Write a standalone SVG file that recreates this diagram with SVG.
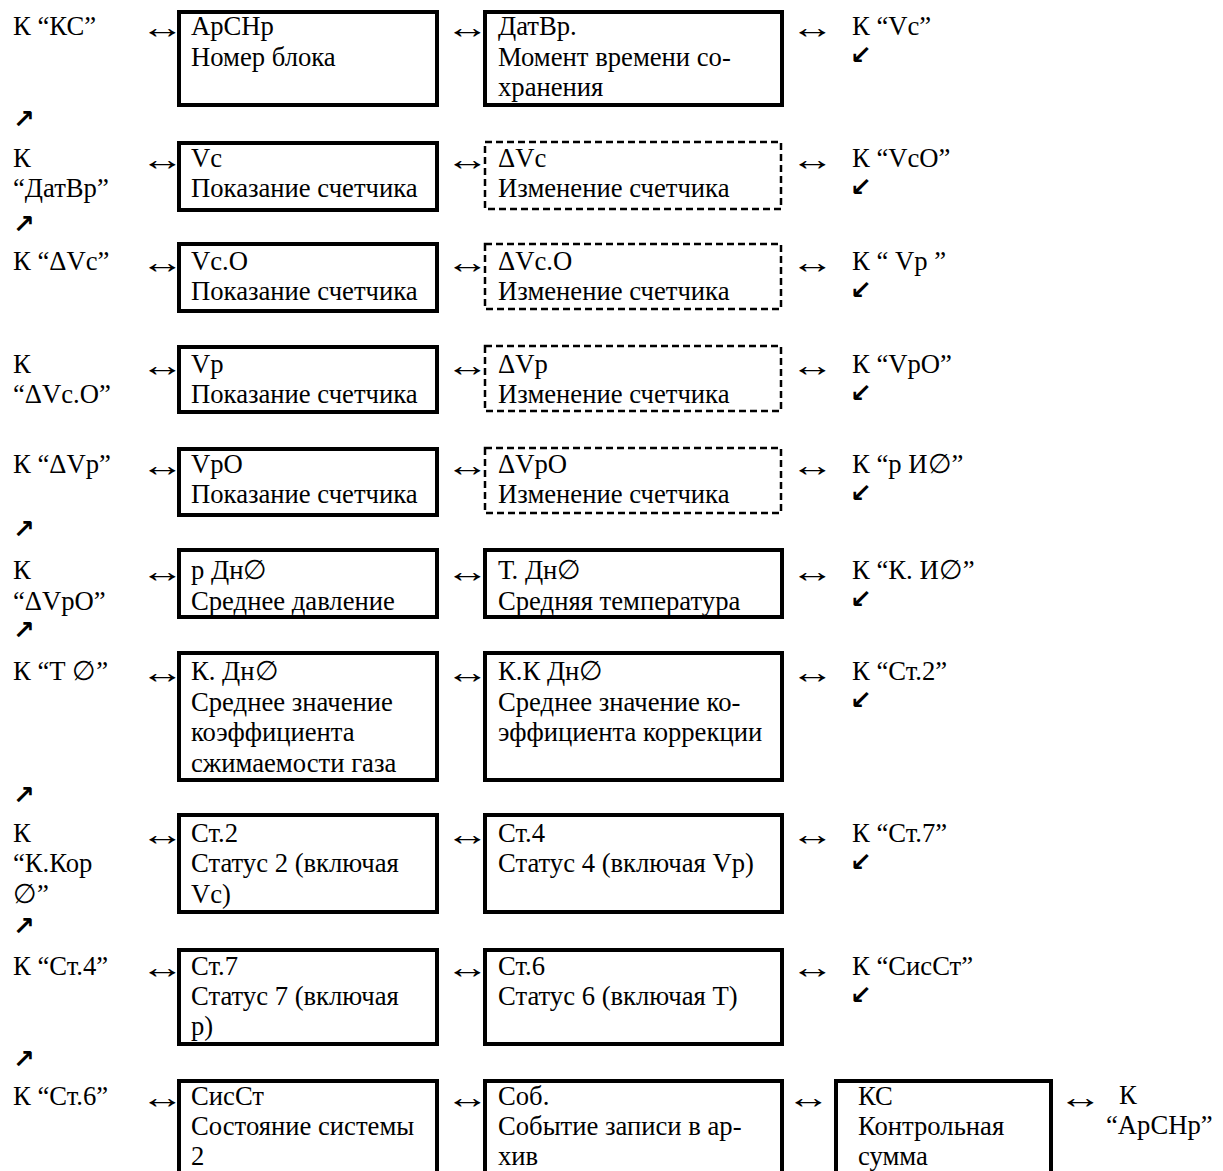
<svg xmlns="http://www.w3.org/2000/svg" width="1223" height="1171" viewBox="0 0 1223 1171">
<style>
.t{font-family:"Liberation Serif","DejaVu Serif",serif;font-size:26.67px;fill:#000}
.box{fill:none;stroke:#000;stroke-width:4}
.dbox{fill:none;stroke:#000;stroke-width:2.5;stroke-dasharray:7 4}
.lr{font-family:"Liberation Serif","DejaVu Serif",serif;font-size:26.67px;fill:#000}
.dg{font-family:"DejaVu Sans",sans-serif;font-weight:bold;font-size:26px;fill:#000}
</style>
<rect width="1223" height="1171" fill="#fff"/>

<!-- left labels -->
<g id="left-labels" class="t">
<text x="13" y="35">К “КС”</text>
<text x="13" y="167">К</text><text x="13" y="197">“ДатВр”</text>
<text x="13" y="270">К “ΔVc”</text>
<text x="13" y="373">К</text><text x="13" y="403">“ΔVc.O”</text>
<text x="13" y="473">К “ΔVp”</text>
<text x="13" y="579">К</text><text x="13" y="610">“ΔVpO”</text>
<text x="13" y="680">К “Т ∅”</text>
<text x="13" y="842">К</text><text x="13" y="872">“К.Кор</text><text x="13" y="903">∅”</text>
<text x="13" y="975">К “Ст.4”</text>
<text x="13" y="1105">К “Ст.6”</text>
</g>

<!-- right labels -->
<g id="right-labels" class="t">
<text x="852" y="35">К “Vc”</text>
<text x="852" y="167">К “VcO”</text>
<text x="852" y="270">К “ Vp ”</text>
<text x="852" y="373">К “VpO”</text>
<text x="852" y="473">К “р И∅”</text>
<text x="852" y="579">К “К. И∅”</text>
<text x="852" y="680">К “Ст.2”</text>
<text x="852" y="842">К “Ст.7”</text>
<text x="852" y="975">К “СисСт”</text>
<text x="1119" y="1104">К</text><text x="1106" y="1134">“АрСНр”</text>
</g>

<!-- row 1 -->
<g id="n-arsnr"><rect class="box" x="179" y="12" width="258" height="93"/>
<text class="t" x="191" y="35">АрСНр</text><text class="t" x="191" y="66">Номер блока</text></g>
<g id="n-datvr"><rect class="box" x="485" y="12" width="297" height="93"/>
<text class="t" x="498" y="35">ДатВр.</text><text class="t" x="498" y="66">Момент времени со-</text><text class="t" x="498" y="96">хранения</text></g>

<!-- row 2 -->
<g id="n-vc"><rect class="box" x="179" y="143" width="258" height="67"/>
<text class="t" x="191" y="167">Vc</text><text class="t" x="191" y="197">Показание счетчика</text></g>
<g id="n-dvc"><rect class="dbox" x="485" y="142" width="296" height="67"/>
<text class="t" x="498" y="167">ΔVc</text><text class="t" x="498" y="197">Изменение счетчика</text></g>

<!-- row 3 -->
<g id="n-vco"><rect class="box" x="179" y="244" width="258" height="67"/>
<text class="t" x="191" y="270">Vc.O</text><text class="t" x="191" y="300">Показание счетчика</text></g>
<g id="n-dvco"><rect class="dbox" x="485" y="244" width="296" height="65"/>
<text class="t" x="498" y="270">ΔVc.O</text><text class="t" x="498" y="300">Изменение счетчика</text></g>

<!-- row 4 -->
<g id="n-vp"><rect class="box" x="179" y="347" width="258" height="65"/>
<text class="t" x="191" y="373">Vp</text><text class="t" x="191" y="403">Показание счетчика</text></g>
<g id="n-dvp"><rect class="dbox" x="485" y="346" width="296" height="65"/>
<text class="t" x="498" y="373">ΔVp</text><text class="t" x="498" y="403">Изменение счетчика</text></g>

<!-- row 5 -->
<g id="n-vpo"><rect class="box" x="179" y="449" width="258" height="66"/>
<text class="t" x="191" y="473">VpO</text><text class="t" x="191" y="503">Показание счетчика</text></g>
<g id="n-dvpo"><rect class="dbox" x="485" y="448" width="296" height="65"/>
<text class="t" x="498" y="473">ΔVpO</text><text class="t" x="498" y="503">Изменение счетчика</text></g>

<!-- row 6 -->
<g id="n-pdn"><rect class="box" x="179" y="550" width="258" height="67"/>
<text class="t" x="191" y="579">р Дн∅</text><text class="t" x="191" y="610">Среднее давление</text></g>
<g id="n-tdn"><rect class="box" x="485" y="550" width="297" height="67"/>
<text class="t" x="498" y="579">Т. Дн∅</text><text class="t" x="498" y="610">Средняя температура</text></g>

<!-- row 7 -->
<g id="n-kdn"><rect class="box" x="179" y="653" width="258" height="127"/>
<text class="t" x="191" y="680">К. Дн∅</text><text class="t" x="191" y="711">Среднее значение</text><text class="t" x="191" y="741">коэффициента</text><text class="t" x="191" y="772">сжимаемости газа</text></g>
<g id="n-kkdn"><rect class="box" x="485" y="653" width="297" height="127"/>
<text class="t" x="498" y="680">К.К Дн∅</text><text class="t" x="498" y="711">Среднее значение ко-</text><text class="t" x="498" y="741">эффициента коррекции</text></g>

<!-- row 8 -->
<g id="n-st2"><rect class="box" x="179" y="815" width="258" height="97"/>
<text class="t" x="191" y="842">Ст.2</text><text class="t" x="191" y="872">Статус 2 (включая</text><text class="t" x="191" y="903">Vc)</text></g>
<g id="n-st4"><rect class="box" x="485" y="815" width="297" height="97"/>
<text class="t" x="498" y="842">Ст.4</text><text class="t" x="498" y="872">Статус 4 (включая Vp)</text></g>

<!-- row 9 -->
<g id="n-st7"><rect class="box" x="179" y="950" width="258" height="94"/>
<text class="t" x="191" y="975">Ст.7</text><text class="t" x="191" y="1005">Статус 7 (включая</text><text class="t" x="191" y="1035">р)</text></g>
<g id="n-st6"><rect class="box" x="485" y="950" width="297" height="94"/>
<text class="t" x="498" y="975">Ст.6</text><text class="t" x="498" y="1005">Статус 6 (включая Т)</text></g>

<!-- row 10 -->
<g id="n-sisst"><rect class="box" x="179" y="1081" width="258" height="130"/>
<text class="t" x="191" y="1105">СисСт</text><text class="t" x="191" y="1135">Состояние системы</text><text class="t" x="191" y="1165">2</text></g>
<g id="n-sob"><rect class="box" x="485" y="1081" width="297" height="130"/>
<text class="t" x="498" y="1105">Соб.</text><text class="t" x="498" y="1135">Событие записи в ар-</text><text class="t" x="498" y="1165">хив</text></g>
<g id="n-ks"><rect class="box" x="836" y="1081" width="215" height="130"/>
<text class="t" x="858" y="1105">КС</text><text class="t" x="858" y="1135">Контрольная</text><text class="t" x="858" y="1165">сумма</text></g>

<!-- connectors -->
<g id="connectors">
<g class="lr">
<text transform="matrix(1.65,0,0,1.2,140,38)">↔</text><text transform="matrix(1.65,0,0,1.2,445,38)">↔</text><text transform="matrix(1.65,0,0,1.2,790,38)">↔</text>
<text transform="matrix(1.65,0,0,1.2,140,170)">↔</text><text transform="matrix(1.65,0,0,1.2,445,170)">↔</text><text transform="matrix(1.65,0,0,1.2,790,170)">↔</text>
<text transform="matrix(1.65,0,0,1.2,140,273)">↔</text><text transform="matrix(1.65,0,0,1.2,445,273)">↔</text><text transform="matrix(1.65,0,0,1.2,790,273)">↔</text>
<text transform="matrix(1.65,0,0,1.2,140,376)">↔</text><text transform="matrix(1.65,0,0,1.2,445,376)">↔</text><text transform="matrix(1.65,0,0,1.2,790,376)">↔</text>
<text transform="matrix(1.65,0,0,1.2,140,476)">↔</text><text transform="matrix(1.65,0,0,1.2,445,476)">↔</text><text transform="matrix(1.65,0,0,1.2,790,476)">↔</text>
<text transform="matrix(1.65,0,0,1.2,140,582)">↔</text><text transform="matrix(1.65,0,0,1.2,445,582)">↔</text><text transform="matrix(1.65,0,0,1.2,790,582)">↔</text>
<text transform="matrix(1.65,0,0,1.2,140,683)">↔</text><text transform="matrix(1.65,0,0,1.2,445,683)">↔</text><text transform="matrix(1.65,0,0,1.2,790,683)">↔</text>
<text transform="matrix(1.65,0,0,1.2,140,845)">↔</text><text transform="matrix(1.65,0,0,1.2,445,845)">↔</text><text transform="matrix(1.65,0,0,1.2,790,845)">↔</text>
<text transform="matrix(1.65,0,0,1.2,140,978)">↔</text><text transform="matrix(1.65,0,0,1.2,445,978)">↔</text><text transform="matrix(1.65,0,0,1.2,790,978)">↔</text>
<text transform="matrix(1.65,0,0,1.2,140,1108)">↔</text><text transform="matrix(1.65,0,0,1.2,445,1108)">↔</text><text transform="matrix(1.65,0,0,1.2,786,1108)">↔</text><text transform="matrix(1.65,0,0,1.2,1058,1108)">↔</text>
</g>
<g class="dg">
<text x="13" y="128">↗</text>
<text x="13" y="233">↗</text>
<text x="13" y="538">↗</text>
<text x="13" y="639">↗</text>
<text x="13" y="804">↗</text>
<text x="13" y="935">↗</text>
<text x="13" y="1068">↗</text>
<text x="850" y="64">↙</text>
<text x="850" y="196">↙</text>
<text x="850" y="299">↙</text>
<text x="850" y="402">↙</text>
<text x="850" y="502">↙</text>
<text x="850" y="608">↙</text>
<text x="850" y="709">↙</text>
<text x="850" y="871">↙</text>
<text x="850" y="1004">↙</text>
</g>
</g>
</svg>
